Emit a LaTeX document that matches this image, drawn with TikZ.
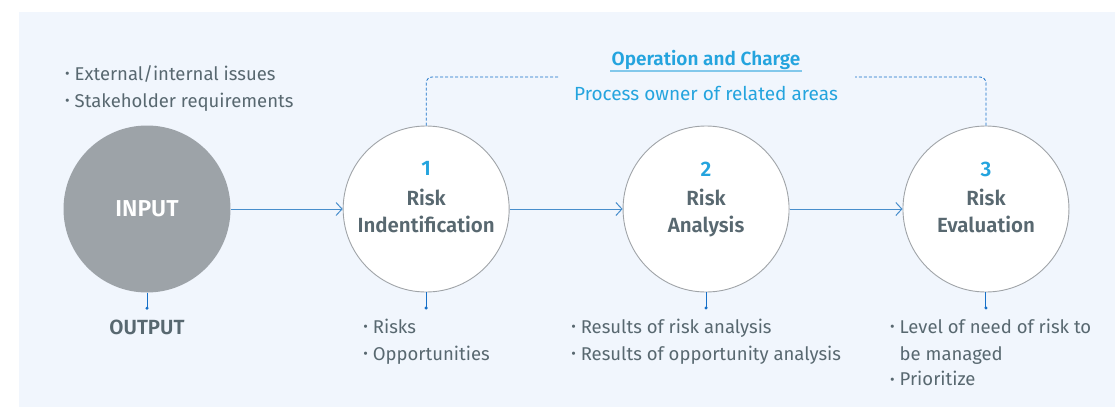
\documentclass[tikz,border=0pt]{standalone}
\usepackage{fontspec}
\setmainfont{Fira Sans}[BoldFont={Fira Sans SemiBold}]
\usetikzlibrary{arrows.meta, positioning, calc}
\definecolor{panelBlue}{RGB}{241,246,253}
\definecolor{inputGray}{RGB}{157,163,168}
\definecolor{ringGray}{RGB}{160,164,168}
\definecolor{darkText}{RGB}{88,104,112}
\definecolor{accentBlue}{RGB}{36,164,222}
\definecolor{arrowBlue}{RGB}{72,142,204}
\definecolor{dropBlue}{RGB}{22,112,200}
\definecolor{lineBlue}{RGB}{130,200,235}
\newcommand\pointdot{\raisebox{0.12ex}{\fontsize{14}{14}\selectfont•}\hspace{5pt}}
\tikzset{
    stepcircle/.style={
        circle,
        draw=ringGray,
        line width=0.9pt,
        fill=white,
        minimum size=166pt,
        inner sep=0pt
    },
    inputcircle/.style={
        circle,
        fill=inputGray,
        minimum size=167pt,
        inner sep=0pt,
        text=white,
        font=\fontsize{23}{26}\selectfont\bfseries
    },
    steptext/.style={
        align=center,
        anchor=north,
        text=darkText,
        inner sep=0pt,
        font=\fontsize{20.5}{27}\selectfont\bfseries
    },
    flowarrow/.style={-{Straight Barb[length=6pt, width=13pt]}, line width=1pt, draw=arrowBlue},
    droplink/.style={-{Circle[length=3pt]}, line width=1pt, draw=dropBlue},
    ownerlink/.style={draw=dropBlue, dash pattern=on 3pt off 2pt, line width=0.8pt, rounded corners=6pt},
    bulletlist/.style={align=left, text=darkText, inner sep=0pt, anchor=north west, font=\fontsize{18.5}{27}\selectfont},
    outlabel/.style={text=darkText, inner sep=0pt, font=\fontsize{20.5}{24}\selectfont\bfseries}
}
\begin{document}
\begin{tikzpicture}[x=1pt, y=-1pt]
    \useasboundingbox (0,0) rectangle (1115,407);
    \fill[panelBlue] (19,12) rectangle (1115,407);
    % circles
    \node[inputcircle] (input) at (147,209) {INPUT};
    \node[stepcircle, right=112pt of input] (idstep) {};
    \node[stepcircle, right=113pt of idstep] (anstep) {};
    \node[stepcircle, right=113pt of anstep] (evstep) {};
    \node[steptext] (idtext) at ([yshift=47.5pt]idstep.center) {{\fontsize{21}{24}\selectfont\color{accentBlue}1}\\[2.5pt]Risk\\Indentification};
    \node[steptext] (antext) at ([yshift=47.5pt]anstep.center) {{\fontsize{21}{24}\selectfont\color{accentBlue}2}\\[2.5pt]Risk\\Analysis};
    \node[steptext] (evtext) at ([yshift=47.5pt]evstep.center) {{\fontsize{21}{24}\selectfont\color{accentBlue}3}\\[2.5pt]Risk\\Evaluation};
    \draw[flowarrow] (input) -- (idstep);
    \draw[flowarrow] (idstep) -- (anstep);
    \draw[flowarrow] (anstep) -- (evstep);
    % inputs above
    \node[bulletlist] (issues) at (65,65) {\pointdot External/internal issues\\\pointdot Stakeholder requirements};
    % owner
    \node[text=accentBlue, inner sep=1pt, font=\fontsize{19}{22}\selectfont\bfseries] (charge) at (706,60) {Operation and Charge};
    \draw[lineBlue, line width=1.2pt] (charge.south west) -- (charge.south east);
    \node[text=accentBlue, inner sep=0pt, font=\fontsize{19}{22}\selectfont] (owner) at (706,93) {Process owner of related areas};
    \coordinate (ownerleft) at (558,77);
    \coordinate (ownerright) at (855,77);
    \draw[ownerlink] (idstep.north) |- (ownerleft);
    \draw[ownerlink] (evstep.north) |- (ownerright);
    % outputs below
    \coordinate[below=17pt of input.south] (inputdot);
    \coordinate[below=17pt of idstep.south] (iddot);
    \coordinate[below=17pt of anstep.south] (andot);
    \coordinate[below=17pt of evstep.south] (evdot);
    \draw[droplink] (input) -- (inputdot);
    \draw[droplink] (idstep) -- (iddot);
    \draw[droplink] (anstep) -- (andot);
    \draw[droplink] (evstep) -- (evdot);
    \node[outlabel, below=10pt of inputdot] (output) {OUTPUT};
    \node[below=9pt of iddot, bulletlist, xshift=-63pt] (idout) {\pointdot Risks\\\pointdot Opportunities};
    \node[below=9pt of andot, bulletlist, xshift=-135pt] (anout) {\pointdot Results of risk analysis\\\pointdot Results of opportunity analysis};
    \node[below=9pt of evdot, bulletlist, xshift=-96pt] (evout) {\pointdot Level of need of risk to\\\phantom{\pointdot}be managed\\[-1.5pt]\pointdot Prioritize};
\end{tikzpicture}
\end{document}
